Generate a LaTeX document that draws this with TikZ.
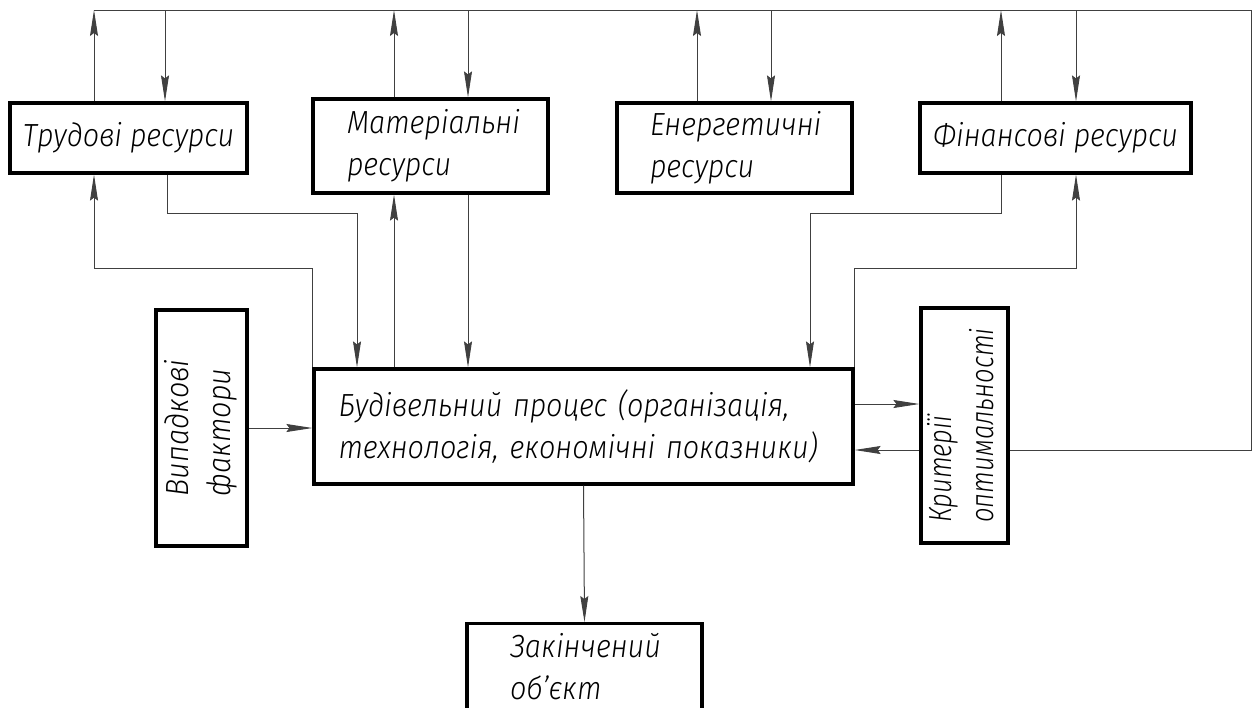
\documentclass[tikz,border=0pt]{standalone}
\usepackage{fontspec}
\newfontfamily\gostfont{Fira Sans Light Italic}[FakeStretch=0.9]
\newfontfamily\gostvuz{Fira Sans Light Italic}[FakeStretch=0.8]
\usetikzlibrary{arrows.meta}

\begin{document}
\begin{tikzpicture}[x=1pt, y=-1pt, >={Stealth[length=26pt, width=8pt, inset=3pt]},
    blok/.style={draw, line width=3.2pt, inner sep=0pt, font=\gostfont\fontsize{32}{42}\selectfont},
    zv/.style={line width=1pt, draw=black!75}]
    \useasboundingbox (0,0) rectangle (1257,707);
    \clip (0,0) rectangle (1257,707);

    % Ресурси
    \node (trud) [blok, minimum width=237pt, minimum height=70pt] at (128.5,138) {Трудові ресурси};
    \node (mat) [blok, minimum width=235pt, minimum height=94pt, text width=167pt, align=left] at (430.5,146) {Матеріальні\\ресурси};
    \node (energ) [blok, minimum width=235pt, minimum height=90pt, text width=169pt, align=left] at (734.5,148) {Енергетичні\\ресурси};
    \node (fin) [blok, minimum width=271pt, minimum height=70pt] at (1055.5,138) {Фінансові ресурси};

    % Процес
    \node (bud) [blok, minimum width=539pt, minimum height=115pt, text width=490pt, align=left] at (583.5,426.5) {Будівельний процес (організація,\\технологія, економічні показники)};
    \node (vypad) [blok, minimum width=91pt, minimum height=236pt] at (201.5,428) {\rotatebox{90}{\begin{tabular}{@{}l@{}}Випадкові\\фактори\end{tabular}}};
    \node (krit) [blok, minimum width=87pt, minimum height=235pt] at (964.5,425.5) {\rotatebox{90}{\gostvuz\begin{tabular}{@{}l@{}}Критерії\\оптимальності\end{tabular}}};
    \node (zak) [blok, anchor=north, minimum width=235pt, text width=149pt, align=left, inner ysep=10pt, text depth=60pt] at (584.5,622) {Закінчений\\об’єкт};

    % Верхня шина
    \coordinate (t1) at (94,10);
    \coordinate (t2) at (165,10);
    \coordinate (t3) at (394,10);
    \coordinate (t4) at (468,10);
    \coordinate (t5) at (697,10);
    \coordinate (t6) at (771,10);
    \coordinate (t7) at (1001,10);
    \coordinate (t8) at (1076,10);
    \coordinate (tr) at (1251,10);
    \coordinate (kr) at (1251,450);
    \draw[zv] (t1) -- (tr) -- (kr) -- (krit.east |- kr);

    \draw[zv, ->] (trud.north -| t1) -- (t1);
    \draw[zv, ->] (t2) -- (trud.north -| t2);
    \draw[zv, ->] (mat.north -| t3) -- (t3);
    \draw[zv, ->] (t4) -- (mat.north -| t4);
    \draw[zv, ->] (energ.north -| t5) -- (t5);
    \draw[zv, ->] (t6) -- (energ.north -| t6);
    \draw[zv, ->] (fin.north -| t7) -- (t7);
    \draw[zv, ->] (t8) -- (fin.north -| t8);

    % Зв'язки з процесом
    \coordinate (a1) at (167,213);
    \coordinate (a2) at (357,213);
    \coordinate (b1) at (94,268);
    \coordinate (c1) at (1001,213);
    \coordinate (c2) at (810,213);
    \coordinate (d1) at (1076,268);
    \coordinate (m1) at (0,404);
    \draw[zv, ->] (trud.south -| a1) -- (a1) -- (a2) -- (bud.north -| a2);
    \draw[zv, ->] (bud.north west) -- (bud.north west |- b1) -- (b1) -- (trud.south -| b1);
    \draw[zv, ->] (bud.north -| t3) -- (mat.south -| t3);
    \draw[zv, ->] (mat.south -| t4) -- (bud.north -| t4);
    \draw[zv, ->] (fin.south -| c1) -- (c1) -- (c2) -- (bud.north -| c2);
    \draw[zv, ->] (bud.north east) -- (bud.north east |- d1) -- (d1) -- (fin.south -| d1);

    \draw[zv, ->] (vypad.east) -- (vypad.east -| bud.west);
    \draw[zv, ->] (bud.east |- m1) -- (krit.west |- m1);
    \draw[zv, ->] (krit.west |- kr) -- (bud.east |- kr);
    \draw[zv, ->] (bud.south) -- (zak.north);
\end{tikzpicture}
\end{document}
